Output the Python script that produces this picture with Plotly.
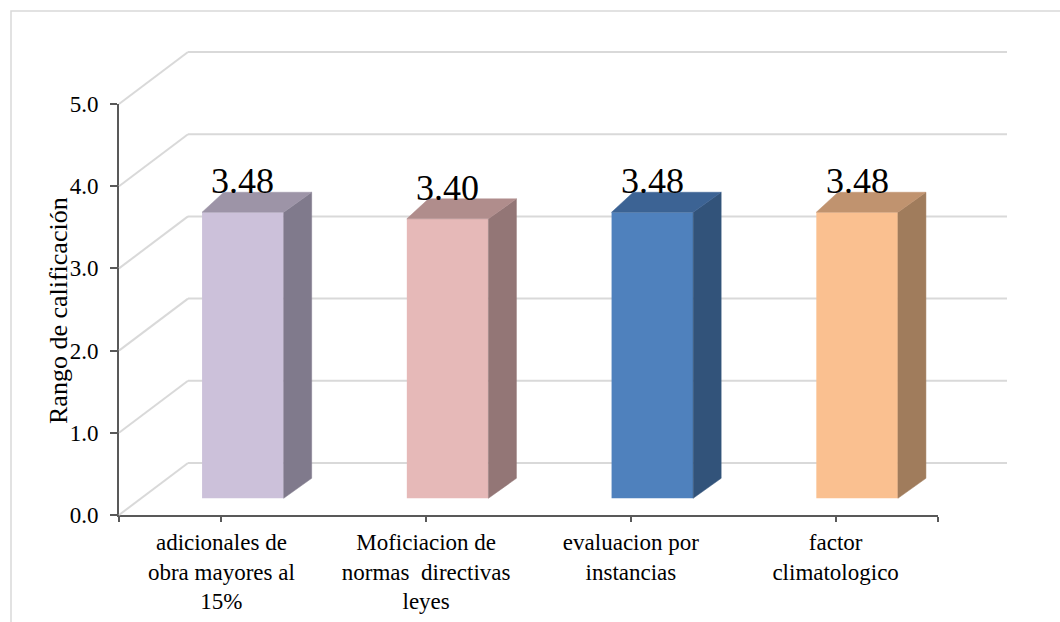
import plotly.graph_objects as go

# ---------------- data ----------------
categories = [
    "adicionales de<br>obra mayores al<br>15%",
    "Moficiacion de<br>normas  directivas<br>leyes",
    "evaluacion por<br>instancias",
    "factor<br>climatologico",
]
values = [3.48, 3.40, 3.48, 3.48]
front_colors = ["#CCC1DA", "#E6B9B8", "#4F81BD", "#FAC090"]
side_colors = ["#807A8C", "#937676", "#32537A", "#A07C5C"]
top_colors = ["#9D94A7", "#B08D8C", "#3C6394", "#C0936F"]
y_ticks = [0, 1, 2, 3, 4, 5]
y_title = "Rango de calificación"

# ---------------- geometry (pixels) ----------------
W, H = 1060, 622
X0, X1 = 119, 938          # front plane x pixels for -0.5 and 3.5
Y0, Y1 = 515, 104          # front plane y pixels for 0 and 5
DXP, DYP = 69, 52          # back wall depth offset
PAD = 8
ppx = (X1 - X0) / 4.0
ppy = (Y0 - Y1) / 5.0
DX, DY = DXP / ppx, DYP / ppy
FXc = 21.5 / ppx           # bar front-face centre shift
FY = 16.7 / ppy            # bar front-face base shift
BW = 81.6 / ppx            # bar width
SDX_R, SDX_L, SDY = 28 / ppx, 21.7 / ppx, 20 / ppy

FONT = "Liberation Serif"

def px_x(p):
    return p / W

def px_y(p):
    return 1 - p / H

fig = go.Figure()

n = len(values)
xpos = list(range(n))

# invisible trace so the front-plane axes are drawn
fig.add_trace(go.Scatter(x=xpos, y=values, mode="markers",
                         marker=dict(opacity=0), xaxis="x", yaxis="y",
                         showlegend=False, hoverinfo="skip"))

# front faces (bars)
fig.add_trace(go.Bar(
    x=[i + FXc for i in xpos], y=values, base=[FY] * n, width=BW,
    marker=dict(color=front_colors, line=dict(width=0)),
    xaxis="x2", yaxis="y2", showlegend=False, hoverinfo="skip",
))

# side & top faces
for i, v in enumerate(values):
    xl = i + FXc - BW / 2
    xr = i + FXc + BW / 2
    fig.add_trace(go.Scatter(
        x=[xr, xr, xr + SDX_R, xr + SDX_R, xr],
        y=[FY, FY + v, FY + v + SDY, FY + SDY, FY],
        fill="toself", fillcolor=side_colors[i], mode="lines",
        line=dict(color=side_colors[i], width=0.5),
        xaxis="x2", yaxis="y2", showlegend=False, hoverinfo="skip",
    ))
    fig.add_trace(go.Scatter(
        x=[xl, xr, xr + SDX_R, xl + SDX_L, xl],
        y=[FY + v, FY + v, FY + v + SDY, FY + v + SDY, FY + v],
        fill="toself", fillcolor=top_colors[i], mode="lines",
        line=dict(color=top_colors[i], width=0.5),
        xaxis="x2", yaxis="y2", showlegend=False, hoverinfo="skip",
    ))
    fig.add_annotation(
        x=i + FXc, y=FY + v, xref="x2", yref="y2", text=f"{v:.2f}",
        showarrow=False, yanchor="middle", xanchor="center", yshift=31,
        font=dict(family=FONT, size=36, color="#000000"),
    )

# back wall and side wall gridlines
shapes = []
for t in y_ticks:
    shapes.append(dict(type="line", xref="x2", yref="y2", layer="below",
                       x0=-0.5 + DX, x1=3.5 + DX, y0=t + DY, y1=t + DY,
                       line=dict(color="#D9D9D9", width=2)))
    shapes.append(dict(type="line", xref="x2", yref="y2", layer="below",
                       x0=-0.5, x1=-0.5 + DX, y0=t, y1=t + DY,
                       line=dict(color="#D9D9D9", width=2)))
# outer chart border
shapes.append(dict(type="rect", xref="paper", yref="paper",
                   x0=px_x(11), x1=px_x(1075), y0=px_y(640), y1=px_y(11),
                   line=dict(color="#D9D9D9", width=1.5), layer="below"))

# axis title
fig.add_annotation(
    xref="paper", yref="paper", x=px_x(58), y=px_y(311), text=y_title,
    textangle=-90, showarrow=False, xanchor="center", yanchor="middle",
    font=dict(family=FONT, size=26, color="#000000"),
)

fig.update_layout(
    template="none",
    width=W, height=H,
    margin=dict(l=0, r=0, t=0, b=0, pad=0, autoexpand=False),
    paper_bgcolor="white", plot_bgcolor="rgba(0,0,0,0)",
    shapes=shapes, showlegend=False,
    font=dict(family=FONT, color="#000000"),
    xaxis=dict(
        domain=[px_x(X0), px_x(X1)], range=[-0.5, 3.5], automargin=False,
        tickvals=[-0.5] + xpos + [3.5], ticktext=[""] + categories + [""],
        ticks="outside", ticklen=5, tickwidth=1.5, tickcolor="#595959",
        showline=True, linecolor="#595959", linewidth=2,
        showgrid=False, zeroline=False, fixedrange=True,
        tickfont=dict(family=FONT, size=23, color="#000000"),
        anchor="y",
    ),
    yaxis=dict(
        domain=[px_y(Y0), px_y(Y1)], range=[0, 5], automargin=False,
        tickvals=y_ticks, tickformat=".1f",
        ticks="outside", ticklen=7, tickwidth=1.5, tickcolor="#595959",
        ticklabelstandoff=7,
        showline=True, linecolor="#595959", linewidth=2,
        showgrid=False, zeroline=False, fixedrange=True,
        tickfont=dict(family=FONT, size=23, color="#000000"),
        anchor="x",
    ),
    xaxis2=dict(
        domain=[px_x(X0 - PAD), px_x(X1 + DXP + PAD)],
        range=[-0.5 - PAD / ppx, 3.5 + (DXP + PAD) / ppx],
        visible=False, anchor="y2", fixedrange=True, automargin=False,
    ),
    yaxis2=dict(
        domain=[px_y(Y0 + PAD), px_y(Y1 - DYP - PAD)],
        range=[-PAD / ppy, 5 + (DYP + PAD) / ppy],
        visible=False, anchor="x2", fixedrange=True, automargin=False,
    ),
)

fig.write_html("out.html")
